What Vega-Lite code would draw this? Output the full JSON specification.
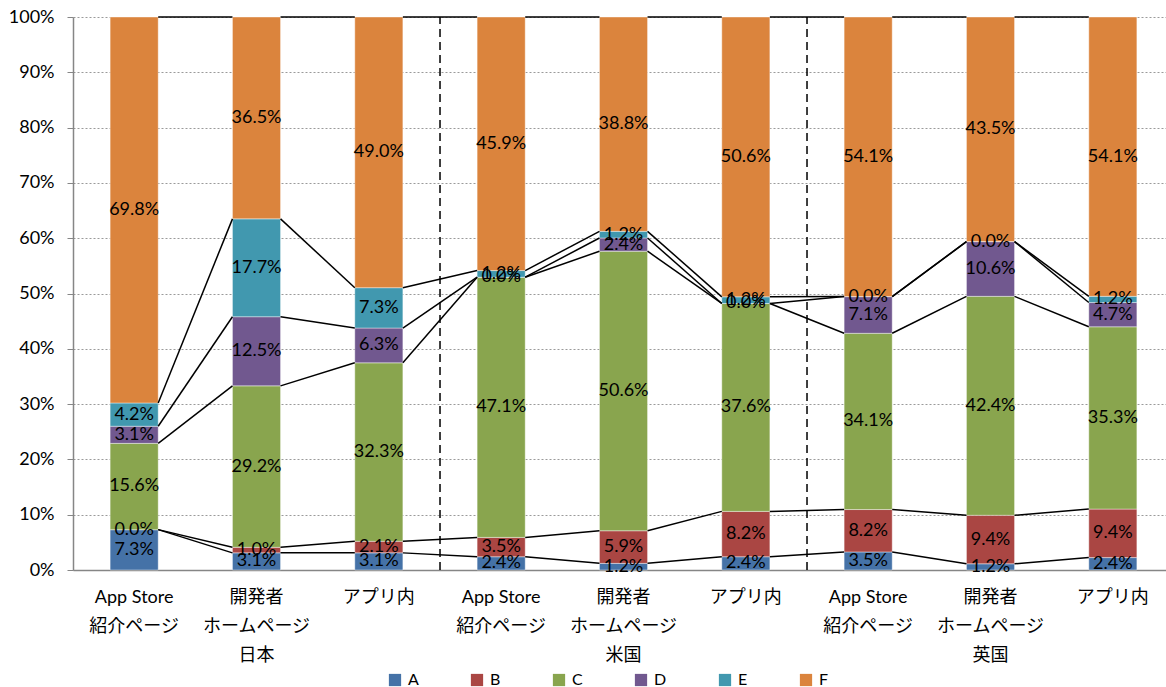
{
  "$schema": "https://vega.github.io/schema/vega-lite/v6.json",
  "width": 1093,
  "height": 553,
  "autosize": {"type": "none"},
  "padding": {"left": 73, "top": 17, "right": 0, "bottom": 117},
  "background": "white",
  "config": {
    "view": {"stroke": null},
    "font": "Lato, 'Noto Sans CJK JP'",
    "axis": {"labelFont": "Lato, 'Noto Sans CJK JP'", "labelColor": "#000000"},
    "legend": {"labelFont": "Lato, 'Noto Sans CJK JP'"}
  },
  "data": {
    "values": [
      {"key": "日本1", "series": "A", "v": 0.073}, {"key": "日本1", "series": "B", "v": 0.0}, {"key": "日本1", "series": "C", "v": 0.156}, {"key": "日本1", "series": "D", "v": 0.031}, {"key": "日本1", "series": "E", "v": 0.042}, {"key": "日本1", "series": "F", "v": 0.698},
      {"key": "日本2", "series": "A", "v": 0.031}, {"key": "日本2", "series": "B", "v": 0.010}, {"key": "日本2", "series": "C", "v": 0.292}, {"key": "日本2", "series": "D", "v": 0.125}, {"key": "日本2", "series": "E", "v": 0.177}, {"key": "日本2", "series": "F", "v": 0.365},
      {"key": "日本3", "series": "A", "v": 0.031}, {"key": "日本3", "series": "B", "v": 0.021}, {"key": "日本3", "series": "C", "v": 0.323}, {"key": "日本3", "series": "D", "v": 0.063}, {"key": "日本3", "series": "E", "v": 0.073}, {"key": "日本3", "series": "F", "v": 0.490},
      {"key": "米国1", "series": "A", "v": 0.024}, {"key": "米国1", "series": "B", "v": 0.035}, {"key": "米国1", "series": "C", "v": 0.471}, {"key": "米国1", "series": "D", "v": 0.0}, {"key": "米国1", "series": "E", "v": 0.012}, {"key": "米国1", "series": "F", "v": 0.459},
      {"key": "米国2", "series": "A", "v": 0.012}, {"key": "米国2", "series": "B", "v": 0.059}, {"key": "米国2", "series": "C", "v": 0.506}, {"key": "米国2", "series": "D", "v": 0.024}, {"key": "米国2", "series": "E", "v": 0.012}, {"key": "米国2", "series": "F", "v": 0.388},
      {"key": "米国3", "series": "A", "v": 0.024}, {"key": "米国3", "series": "B", "v": 0.082}, {"key": "米国3", "series": "C", "v": 0.376}, {"key": "米国3", "series": "D", "v": 0.0}, {"key": "米国3", "series": "E", "v": 0.012}, {"key": "米国3", "series": "F", "v": 0.506},
      {"key": "英国1", "series": "A", "v": 0.035}, {"key": "英国1", "series": "B", "v": 0.082}, {"key": "英国1", "series": "C", "v": 0.341}, {"key": "英国1", "series": "D", "v": 0.071}, {"key": "英国1", "series": "E", "v": 0.0}, {"key": "英国1", "series": "F", "v": 0.541},
      {"key": "英国2", "series": "A", "v": 0.012}, {"key": "英国2", "series": "B", "v": 0.094}, {"key": "英国2", "series": "C", "v": 0.424}, {"key": "英国2", "series": "D", "v": 0.106}, {"key": "英国2", "series": "E", "v": 0.0}, {"key": "英国2", "series": "F", "v": 0.435},
      {"key": "英国3", "series": "A", "v": 0.024}, {"key": "英国3", "series": "B", "v": 0.094}, {"key": "英国3", "series": "C", "v": 0.353}, {"key": "英国3", "series": "D", "v": 0.047}, {"key": "英国3", "series": "E", "v": 0.012}, {"key": "英国3", "series": "F", "v": 0.541}
    ]
  },
  "transform": [
    {"stack": "v", "groupby": ["key"], "offset": "normalize", "sort": [{"field": "series", "order": "ascending"}], "as": ["y0", "y1"]}
  ],
  "layer": [
    {
      "mark": {"type": "bar", "stroke": "#ffffff", "strokeOpacity": 0.5, "strokeWidth": 0.8},
      "encoding": {
        "x": {
          "field": "key", "type": "nominal", "title": null,
          "scale": {"domain": ["日本1", "日本2", "日本3", "米国1", "米国2", "米国3", "英国1", "英国2", "英国3"], "range": [0, 1101], "paddingInner": 0.607, "paddingOuter": 0.3035},
          "axis": {
            "labelAngle": 0, "labelFontSize": 18, "labelLineHeight": 29, "labelBaseline": "top", "labelPadding": 18,
            "ticks": false, "domainColor": "#868686", "domainWidth": 1.5, "labelLimit": 0,
            "labelExpr": "slice(datum.value,2)=='1' ? ['App Store','紹介ページ'] : slice(datum.value,2)=='2' ? ['開発者','ホームページ', slice(datum.value,0,2)] : ['アプリ内']"
          }
        },
        "y": {
          "field": "y1", "type": "quantitative", "title": null,
          "scale": {"domain": [0, 1], "nice": false},
          "axis": {
            "format": ".0%", "values": [0, 0.1, 0.2, 0.3, 0.4, 0.5, 0.6, 0.7, 0.8, 0.9, 1],
            "labelFontSize": 18, "labelPadding": 13, "tickSize": 6, "tickColor": "#868686", "domainColor": "#868686", "domainWidth": 1.5,
            "grid": true, "gridColor": "#9a9a9a", "gridDash": [2, 2], "gridWidth": 1, "labelOverlap": false
          }
        },
        "y2": {"field": "y0"},
        "color": {
          "field": "series", "type": "nominal", "title": null,
          "scale": {"domain": ["A", "B", "C", "D", "E", "F"], "range": ["#4572A7", "#AA4643", "#89A54E", "#71588F", "#4198AF", "#DB843D"]},
          "legend": {
            "orient": "none", "legendX": 314, "legendY": 655, "direction": "horizontal",
            "symbolType": "square", "symbolSize": 150, "symbolStrokeWidth": 0, "labelFontSize": 16, "labelOffset": 5,
            "columnPadding": 50, "labelColor": "#000000"
          }
        }
      }
    },
    {
      "transform": [
        {"window": [{"op": "lead", "field": "key", "as": "nextKey"}, {"op": "lead", "field": "y1", "as": "nextY"}], "groupby": ["series"], "sort": [{"field": "key", "order": "ascending"}]},
        {"filter": "datum.nextKey != null"}
      ],
      "mark": {"type": "rule", "color": "#000000", "strokeWidth": 1.5},
      "encoding": {
        "x": {
          "field": "key", "type": "nominal", "bandPosition": 1, "title": null,
          "axis": {
            "labelAngle": 0, "labelFontSize": 18, "labelLineHeight": 29, "labelBaseline": "top", "labelPadding": 18,
            "ticks": false, "domainColor": "#868686", "domainWidth": 1.5, "labelLimit": 0,
            "labelExpr": "slice(datum.value,2)=='1' ? ['App Store','紹介ページ'] : slice(datum.value,2)=='2' ? ['開発者','ホームページ', slice(datum.value,0,2)] : ['アプリ内']"
          }
        },
        "x2": {"field": "nextKey", "bandPosition": 0},
        "y": {
          "field": "y1", "type": "quantitative", "title": null,
          "axis": {
            "format": ".0%", "values": [0, 0.1, 0.2, 0.3, 0.4, 0.5, 0.6, 0.7, 0.8, 0.9, 1],
            "labelFontSize": 18, "labelPadding": 13, "tickSize": 6, "tickColor": "#868686", "domainColor": "#868686", "domainWidth": 1.5,
            "grid": true, "gridColor": "#9a9a9a", "gridDash": [2, 2], "gridWidth": 1, "labelOverlap": false
          }
        },
        "y2": {"field": "nextY"}
      }
    },
    {
      "mark": {"type": "text", "fontSize": 18, "color": "#000000", "baseline": "middle", "font": "Lato, 'Noto Sans CJK JP'"},
      "encoding": {
        "x": {
          "field": "key", "type": "nominal", "title": null,
          "axis": {
            "labelAngle": 0, "labelFontSize": 18, "labelLineHeight": 29, "labelBaseline": "top", "labelPadding": 18,
            "ticks": false, "domainColor": "#868686", "domainWidth": 1.5, "labelLimit": 0,
            "labelExpr": "slice(datum.value,2)=='1' ? ['App Store','紹介ページ'] : slice(datum.value,2)=='2' ? ['開発者','ホームページ', slice(datum.value,0,2)] : ['アプリ内']"
          }
        },
        "y": {
          "field": "v", "type": "quantitative", "stack": "normalize", "bandPosition": 0.5, "title": null,
          "axis": {
            "format": ".0%", "values": [0, 0.1, 0.2, 0.3, 0.4, 0.5, 0.6, 0.7, 0.8, 0.9, 1],
            "labelFontSize": 18, "labelPadding": 13, "tickSize": 6, "tickColor": "#868686", "domainColor": "#868686", "domainWidth": 1.5,
            "grid": true, "gridColor": "#9a9a9a", "gridDash": [2, 2], "gridWidth": 1, "labelOverlap": false
          }
        },
        "detail": {"field": "series"},
        "order": {"field": "series", "sort": "ascending"},
        "text": {"field": "v", "type": "quantitative", "format": ".1%"}
      }
    },
    {
      "data": {"values": [{"key": "米国1"}, {"key": "英国1"}]},
      "transform": [],
      "mark": {"type": "rule", "color": "#000000", "strokeWidth": 1.5, "strokeDash": [8, 5]},
      "encoding": {
        "x": {
          "field": "key", "type": "nominal", "bandPosition": -0.772, "title": null,
          "axis": {
            "labelAngle": 0, "labelFontSize": 18, "labelLineHeight": 29, "labelBaseline": "top", "labelPadding": 18,
            "ticks": false, "domainColor": "#868686", "domainWidth": 1.5, "labelLimit": 0,
            "labelExpr": "slice(datum.value,2)=='1' ? ['App Store','紹介ページ'] : slice(datum.value,2)=='2' ? ['開発者','ホームページ', slice(datum.value,0,2)] : ['アプリ内']"
          }
        },
        "y": {
          "datum": 0, "title": null,
          "axis": {
            "format": ".0%", "values": [0, 0.1, 0.2, 0.3, 0.4, 0.5, 0.6, 0.7, 0.8, 0.9, 1],
            "labelFontSize": 18, "labelPadding": 13, "tickSize": 6, "tickColor": "#868686", "domainColor": "#868686", "domainWidth": 1.5,
            "grid": true, "gridColor": "#9a9a9a", "gridDash": [2, 2], "gridWidth": 1, "labelOverlap": false
          }
        },
        "y2": {"datum": 1}
      }
    }
  ]
}
